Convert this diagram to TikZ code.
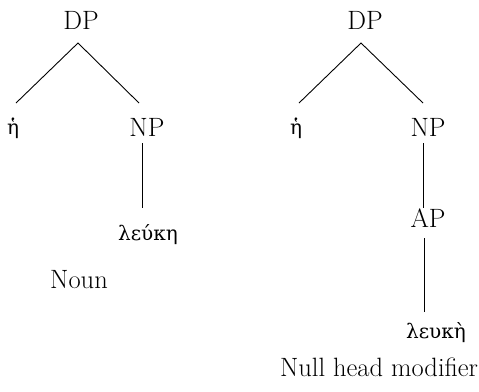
\documentclass[tikz,border=0pt]{standalone}
\usepackage{fontspec}
\newfontfamily\greekfont{DejaVu Serif}
\begin{document}
\begin{tikzpicture}[x=1bp,y=-1bp,
  lbl/.style={anchor=base,inner sep=0pt,font=\fontsize{26.5bp}{31bp}\selectfont},
  grk/.style={anchor=base,inner sep=0pt,font=\greekfont\fontsize{20bp}{24bp}\selectfont},
  branch/.style={line width=0.9bp,black}]
\useasboundingbox (0,0) rectangle (479,391);

% left tree: noun
\node[lbl] (dpA) at (81,29) {DP};
\node[grk] (detA) at (13,134) {ἡ};
\node[lbl] (npA) at (147,136) {NP};
\node[grk] (nA) at (148,240) {λεύκη};
\node[lbl] (capA) at (79,288) {Noun};
\coordinate (topA) at (78,43);
\coordinate (lA) at (16,103);
\coordinate (rA) at (139,103);
\coordinate (npAb) at (142,143);
\coordinate (nAt) at (142,208);
\draw[branch] (lA) -- (topA) -- (rA);
\draw[branch] (npAb) -- (nAt);

% right tree: null head modifier
\node[lbl] (dpB) at (365,29) {DP};
\node[grk] (detB) at (296,134) {ἡ};
\node[lbl] (npB) at (428,136) {NP};
\node[lbl] (apB) at (428,227) {AP};
\node[grk] (aB) at (436,338) {λευκὴ};
\node[lbl] (capB) at (379,376) {Null head modifier};
\coordinate (topB) at (361,43);
\coordinate (lB) at (299,103);
\coordinate (rB) at (423,103);
\coordinate (npBb) at (423,143);
\coordinate (apBt) at (423,208);
\coordinate (apBb) at (424,238);
\coordinate (aBt) at (424,312);
\draw[branch] (lB) -- (topB) -- (rB);
\draw[branch] (npBb) -- (apBt);
\draw[branch] (apBb) -- (aBt);
\end{tikzpicture}
\end{document}
